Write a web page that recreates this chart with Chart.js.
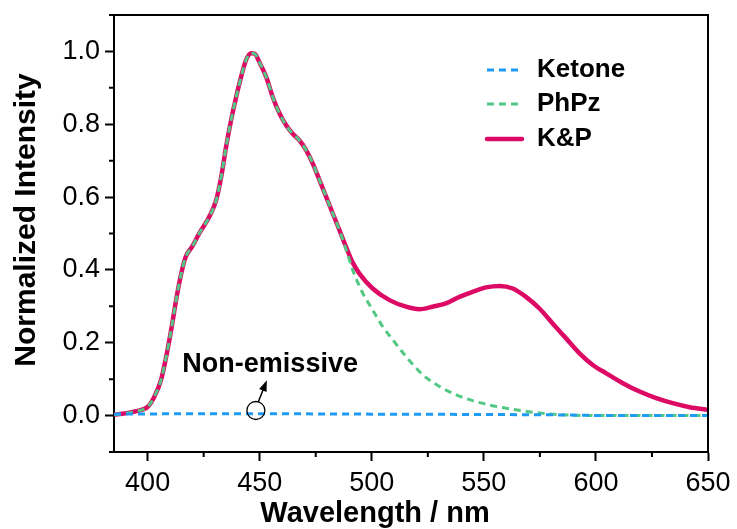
<!DOCTYPE html>
<html>
<head>
<meta charset="utf-8">
<script src="https://cdn.jsdelivr.net/npm/chart.js@4"></script>
<style>
  body { margin: 0; background: #fff; }
  canvas { display: block; }
</style>
</head>
<body>
<canvas id="spectra-chart" width="737" height="529"></canvas>
<script>

// wavelength (nm) / normalized intensity
const kpWl = [385, 390, 395, 400, 403, 406, 408, 410.5, 412.7, 415, 417, 420, 423, 427.5, 430.5, 432.8, 435, 437.2, 439.5, 441.7, 443.9, 446.2, 447.7, 449.9, 452.9, 455.8, 458.8, 461.8, 464.7, 467.7, 470.7, 473.7, 476.7, 479.7, 482.6, 485.6, 488.6, 491.5, 494.5, 500.4, 507.9, 515.3, 521.2, 527.2, 533.1, 539.1, 545, 551, 557, 562.9, 568.8, 574.8, 580.7, 586.7, 592.7, 598.6, 604.6, 612, 619.5, 626.9, 634.3, 641.8, 650]
const kpVal = [0.003, 0.006, 0.012, 0.024, 0.052, 0.098, 0.153, 0.235, 0.317, 0.39, 0.436, 0.465, 0.50, 0.546, 0.59, 0.655, 0.738, 0.81, 0.875, 0.93, 0.976, 0.995, 0.994, 0.97, 0.93, 0.875, 0.83, 0.797, 0.774, 0.756, 0.729, 0.692, 0.646, 0.60, 0.555, 0.509, 0.462, 0.42, 0.39, 0.349, 0.317, 0.299, 0.292, 0.299, 0.308, 0.326, 0.34, 0.352, 0.356, 0.349, 0.326, 0.294, 0.253, 0.212, 0.171, 0.139, 0.116, 0.089, 0.066, 0.048, 0.034, 0.023, 0.016]

const phWl = [385, 390, 395, 400, 403, 406, 408, 410.5, 412.7, 415, 417, 420, 423, 427.5, 430.5, 432.8, 435, 437.2, 439.5, 441.7, 443.9, 446.2, 447.7, 449.9, 452.9, 455.8, 458.8, 461.8, 464.7, 467.7, 470.7, 473.7, 476.7, 479.7, 482.6, 485.6, 488.6, 491.6, 496, 500.4, 504.9, 509.4, 515.3, 522.8, 530.2, 537.7, 545, 552.5, 560, 567.4, 574.8, 582.3, 590, 605, 620, 650]
const phVal = [0.003, 0.006, 0.012, 0.024, 0.052, 0.098, 0.153, 0.235, 0.317, 0.39, 0.436, 0.465, 0.50, 0.546, 0.59, 0.655, 0.738, 0.81, 0.875, 0.93, 0.976, 0.995, 0.994, 0.97, 0.93, 0.875, 0.83, 0.797, 0.774, 0.756, 0.729, 0.692, 0.646, 0.60, 0.555, 0.509, 0.455, 0.398, 0.336, 0.29, 0.244, 0.208, 0.162, 0.112, 0.08, 0.057, 0.041, 0.029, 0.02, 0.013, 0.007, 0.003, 0.001, 0.0, 0.0, 0.0]

const ketWl = [385, 420, 450, 500, 550, 580, 610, 650]
const ketVal = [0.004, 0.005, 0.005, 0.004, 0.003, 0.002, 0.0, 0.0]

const xTicks = [400, 450, 500, 550, 600, 650]
const xMinor = [425, 475, 525, 575, 625]
const yTicks = [0, 0.2, 0.4, 0.6, 0.8, 1.0]
const yMinor = [-0.1, 0.1, 0.3, 0.5, 0.7, 0.9, 1.1]

const FONT = "'Liberation Sans', Arial, sans-serif"

function pts(xs, ys) {
    return xs.map((x, i) => ({ x: x, y: ys[i] }))
}

const framePlugin = {
    id: 'frame',
    afterDraw(chart) {
        const ctx = chart.ctx
        const a = chart.chartArea
        const xs = chart.scales.x
        const ys = chart.scales.y
        ctx.save()
        ctx.strokeStyle = '#000'
        ctx.lineWidth = 2
        ctx.beginPath()
        ctx.moveTo(a.left, a.top)
        ctx.lineTo(a.right, a.top)
        ctx.lineTo(a.right, a.bottom)
        ctx.stroke()

        // minor ticks
        ctx.beginPath()
        xMinor.forEach(v => {
            const px = xs.getPixelForValue(v)
            ctx.moveTo(px, a.bottom)
            ctx.lineTo(px, a.bottom + 5)
        })
        yMinor.forEach(v => {
            const py = ys.getPixelForValue(v)
            ctx.moveTo(a.left, py)
            ctx.lineTo(a.left - 5, py)
        })
        ctx.stroke()

        // axis titles
        ctx.fillStyle = '#000'
        ctx.font = 'bold 29px ' + FONT
        ctx.textAlign = 'center'
        ctx.textBaseline = 'middle'
        ctx.fillText('Wavelength / nm', 375, 514)
        ctx.save()
        ctx.translate(27, 220)
        ctx.rotate(-Math.PI / 2)
        ctx.font = 'bold 30px ' + FONT
        ctx.fillText('Normalized Intensity', 0, 0)
        ctx.restore()

        // legend
        const rows = [70, 104, 139]
        ctx.textAlign = 'left'
        ctx.font = 'bold 26px ' + FONT
        chart.data.datasets.forEach((ds, i) => {
            const y = rows[i]
            ctx.save()
            ctx.strokeStyle = ds.borderColor
            ctx.lineWidth = ds.borderWidth
            ctx.lineCap = ds.borderCapStyle || 'butt'
            ctx.setLineDash(ds.borderDash || [])
            ctx.beginPath()
            ctx.moveTo(487, y)
            ctx.lineTo(522, y)
            ctx.stroke()
            ctx.restore()
            ctx.fillText(ds.label, 537, y)
        })

        // annotation
        ctx.font = 'bold 27px ' + FONT
        ctx.fillText('Non-emissive', xs.getPixelForValue(415.5), ys.getPixelForValue(0.139))
        const cx = xs.getPixelForValue(448.3)
        const cy = ys.getPixelForValue(0.014)
        ctx.lineWidth = 1.3
        ctx.beginPath()
        ctx.arc(cx, cy, 9, 0, Math.PI * 2)
        ctx.stroke()
        const x0 = xs.getPixelForValue(449.4), y0 = ys.getPixelForValue(0.038)
        const x1 = xs.getPixelForValue(453.2), y1 = ys.getPixelForValue(0.097)
        const ang = Math.atan2(y1 - y0, x1 - x0)
        ctx.lineWidth = 1.5
        ctx.beginPath()
        ctx.moveTo(x0, y0)
        ctx.lineTo(x1 - 8 * Math.cos(ang), y1 - 8 * Math.sin(ang))
        ctx.stroke()
        ctx.beginPath()
        ctx.moveTo(x1, y1)
        ctx.lineTo(x1 - 11 * Math.cos(ang) + 4 * Math.sin(ang), y1 - 11 * Math.sin(ang) - 4 * Math.cos(ang))
        ctx.lineTo(x1 - 11 * Math.cos(ang) - 4 * Math.sin(ang), y1 - 11 * Math.sin(ang) + 4 * Math.cos(ang))
        ctx.closePath()
        ctx.fill()
        ctx.restore()
    }
}

document.addEventListener("DOMContentLoaded", function () {

    const el = document.getElementById("spectra-chart")

    new Chart(el, {
        type: 'line',
        data: {
            datasets: [{
                label: 'Ketone',
                data: pts(ketWl, ketVal),
                borderColor: '#1E9BF5',
                borderWidth: 3,
                borderDash: [7, 5],
                order: 1
            }, {
                label: 'PhPz',
                data: pts(phWl, phVal),
                borderColor: '#52C884',
                borderWidth: 3,
                borderDash: [7, 5],
                order: 2
            }, {
                label: 'K&P',
                data: pts(kpWl, kpVal),
                borderColor: '#DC0A64',
                borderWidth: 4.5,
                borderCapStyle: 'round',
                order: 3
            }]
        },
        options: {
            responsive: false,
            devicePixelRatio: 1,
            animation: false,
            layout: { padding: { left: 0, right: 29, top: 15, bottom: 0 } },
            elements: {
                point: { radius: 0 },
                line: { cubicInterpolationMode: 'monotone' }
            },
            plugins: {
                legend: { display: false },
                tooltip: { enabled: false }
            },
            scales: {
                x: {
                    type: 'linear',
                    min: 385,
                    max: 650,
                    afterBuildTicks: s => { s.ticks = xTicks.map(v => ({ value: v })) },
                    afterFit: s => { s.height = 77; s.paddingLeft = 0; s.paddingRight = 0 },
                    border: { display: true, color: '#000', width: 2 },
                    grid: { drawOnChartArea: false, drawTicks: true, tickLength: 9, tickWidth: 2, tickColor: '#000' },
                    ticks: { color: '#000', padding: 6, font: { family: FONT, size: 27 } }
                },
                y: {
                    min: -0.1,
                    max: 1.1,
                    afterBuildTicks: s => { s.ticks = yTicks.map(v => ({ value: v })) },
                    afterFit: s => { s.width = 114; s.paddingTop = 0; s.paddingBottom = 0 },
                    border: { display: true, color: '#000', width: 2 },
                    grid: { drawOnChartArea: false, drawTicks: true, tickLength: 9, tickWidth: 2, tickColor: '#000' },
                    ticks: { color: '#000', padding: 5, font: { family: FONT, size: 27 }, callback: v => v.toFixed(1) }
                }
            }
        },
        plugins: [framePlugin]
    })

})

</script>
</body>
</html>
